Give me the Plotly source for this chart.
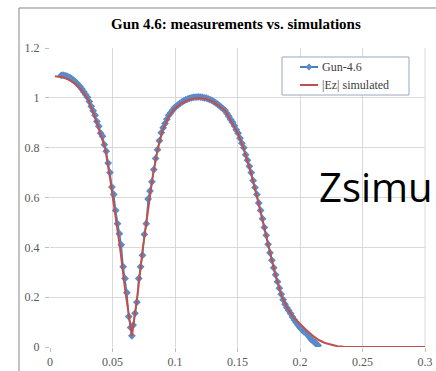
import plotly.graph_objects as go

# Simulated |Ez|
sim_x = [0.004, 0.010, 0.015, 0.020, 0.025, 0.030, 0.035, 0.040, 0.044, 0.048,
         0.052, 0.056, 0.060, 0.0635, 0.0655, 0.0675, 0.070, 0.074, 0.078, 0.082,
         0.086, 0.090, 0.095, 0.100, 0.105, 0.110, 0.115, 0.120, 0.125, 0.130,
         0.135, 0.140, 0.145, 0.150, 0.155, 0.160, 0.165, 0.170, 0.175, 0.180,
         0.185, 0.190, 0.195, 0.200, 0.205, 0.210, 0.215, 0.220, 0.225, 0.230,
         0.235, 0.240, 0.250, 0.260, 0.270, 0.280, 0.290, 0.300]
sim_y = [1.087, 1.083, 1.073, 1.057, 1.032, 0.998, 0.935, 0.858, 0.800, 0.679,
         0.548, 0.400, 0.233, 0.111, 0.045, 0.117, 0.207, 0.387, 0.542, 0.679,
         0.790, 0.868, 0.925, 0.957, 0.977, 0.990, 0.997, 0.999, 0.995, 0.985,
         0.968, 0.948, 0.905, 0.860, 0.795, 0.712, 0.615, 0.510, 0.395, 0.295,
         0.208, 0.155, 0.118, 0.092, 0.068, 0.046, 0.028, 0.016, 0.008, 0.003,
         0.001, 0.000, 0.000, 0.000, 0.000, 0.000, 0.000, 0.000]

# Measured Gun-4.6
meas_x = [0.0090, 0.0105, 0.0120, 0.0135, 0.0150, 0.0165, 0.0180, 0.0195, 0.0210, 0.0225,
          0.0240, 0.0255, 0.0270, 0.0285, 0.0300, 0.0315, 0.0330, 0.0345, 0.0360, 0.0375,
          0.0390, 0.0405, 0.0420, 0.0435, 0.0450, 0.0465, 0.0480, 0.0495, 0.0510, 0.0525,
          0.0540, 0.0555, 0.0570, 0.0585, 0.0600, 0.0615, 0.0630, 0.0645, 0.0655, 0.0665,
          0.0680, 0.0695, 0.0710, 0.0725, 0.0740, 0.0755, 0.0770, 0.0785, 0.0800, 0.0815,
          0.0830, 0.0845, 0.0860, 0.0875, 0.0890, 0.0905, 0.0920, 0.0935, 0.0950, 0.0965,
          0.0980, 0.0995, 0.1010, 0.1025, 0.1040, 0.1055, 0.1070, 0.1085, 0.1100, 0.1115,
          0.1130, 0.1145, 0.1160, 0.1175, 0.1190, 0.1205, 0.1220, 0.1235, 0.1250, 0.1265,
          0.1280, 0.1295, 0.1310, 0.1325, 0.1340, 0.1355, 0.1370, 0.1385, 0.1400, 0.1415,
          0.1430, 0.1445, 0.1460, 0.1475, 0.1490, 0.1505, 0.1520, 0.1535, 0.1550, 0.1565,
          0.1580, 0.1595, 0.1610, 0.1625, 0.1640, 0.1655, 0.1670, 0.1685, 0.1700, 0.1715,
          0.1730, 0.1745, 0.1760, 0.1775, 0.1790, 0.1805, 0.1820, 0.1835, 0.1850, 0.1865,
          0.1880, 0.1895, 0.1910, 0.1925, 0.1940, 0.1955, 0.1970, 0.1985, 0.2000, 0.2015,
          0.2030, 0.2045, 0.2060, 0.2075, 0.2090, 0.2105, 0.2120, 0.2135, 0.2145]
meas_y = [1.090, 1.091, 1.089, 1.087, 1.083, 1.080, 1.074, 1.068, 1.061, 1.053,
          1.045, 1.035, 1.024, 1.013, 1.002, 0.985, 0.966, 0.948, 0.930, 0.905,
          0.886, 0.858, 0.846, 0.812, 0.786, 0.738, 0.700, 0.642, 0.612, 0.548,
          0.495, 0.455, 0.410, 0.322, 0.275, 0.218, 0.122, 0.078, 0.045, 0.088,
          0.135, 0.180, 0.275, 0.322, 0.368, 0.452, 0.495, 0.594, 0.626, 0.663,
          0.712, 0.757, 0.792, 0.828, 0.860, 0.880, 0.897, 0.914, 0.930, 0.940,
          0.950, 0.960, 0.966, 0.972, 0.978, 0.983, 0.988, 0.992, 0.995, 0.998,
          1.000, 1.002, 1.003, 1.003, 1.004, 1.003, 1.002, 1.000, 0.999, 0.996,
          0.993, 0.990, 0.985, 0.980, 0.975, 0.969, 0.962, 0.956, 0.950, 0.938,
          0.926, 0.913, 0.902, 0.888, 0.872, 0.858, 0.838, 0.818, 0.800, 0.772,
          0.750, 0.725, 0.700, 0.668, 0.640, 0.612, 0.578, 0.548, 0.515, 0.480,
          0.448, 0.412, 0.378, 0.348, 0.318, 0.290, 0.262, 0.236, 0.212, 0.190,
          0.172, 0.158, 0.146, 0.134, 0.120, 0.108, 0.098, 0.088, 0.078, 0.070,
          0.062, 0.058, 0.050, 0.040, 0.030, 0.024, 0.018, 0.010, 0.006]

series_names = ["Gun-4.6", "|Ez| simulated"]
title_text = "Gun 4.6: measurements vs. simulations"
overlay_text = "Zsimu"

BLUE_LINE = "#4a7ebb"
BLUE_MARK = "#5b8ac6"
RED = "#c0504d"

fig = go.Figure()
fig.add_trace(go.Scatter(
    x=meas_x, y=meas_y, name=series_names[0], mode="lines+markers",
    line=dict(color=BLUE_LINE, width=1.5),
    marker=dict(symbol="diamond", size=6, color=BLUE_MARK),
    showlegend=False,
))
fig.add_trace(go.Scatter(
    x=sim_x, y=sim_y, name=series_names[1], mode="lines",
    line=dict(color=RED, width=2),
    showlegend=False,
))

# custom legend geometry (paper coordinates)
lg_x0, lg_x1, lg_y0, lg_y1 = 0.6187, 0.9573, 0.8428, 0.9699
row_y = [0.9365, 0.8763]
samp_x0, samp_x1 = 0.6667, 0.7147
dmx, dhx, dhy = 0.6907, 0.0093, 0.0117

legend_shapes = [
    dict(type="rect", xref="paper", yref="paper", x0=lg_x0, x1=lg_x1, y0=lg_y0, y1=lg_y1,
         line=dict(color="#9aa7bf", width=1), fillcolor="white", layer="above"),
    dict(type="line", xref="paper", yref="paper", x0=samp_x0, x1=samp_x1, y0=row_y[0], y1=row_y[0],
         line=dict(color=BLUE_LINE, width=2), layer="above"),
    dict(type="path", xref="paper", yref="paper",
         path=f"M {dmx-dhx} {row_y[0]} L {dmx} {row_y[0]+dhy} L {dmx+dhx} {row_y[0]} L {dmx} {row_y[0]-dhy} Z",
         line=dict(width=0), fillcolor=BLUE_MARK, layer="above"),
    dict(type="line", xref="paper", yref="paper", x0=samp_x0, x1=samp_x1, y0=row_y[1], y1=row_y[1],
         line=dict(color=RED, width=2), layer="above"),
]
legend_texts = [
    dict(text=series_names[i], xref="paper", yref="paper", x=0.7187, y=row_y[i],
         xanchor="left", yanchor="middle", showarrow=False,
         font=dict(family="Liberation Serif", size=12, color="#404040"))
    for i in range(2)
]

tickfont = dict(family="Liberation Serif", size=12, color="#595959")
fig.update_layout(
    width=436, height=371,
    margin=dict(l=50, r=11, t=48, b=24, autoexpand=False),
    paper_bgcolor="white", plot_bgcolor="white",
    showlegend=False,
    xaxis=dict(
        range=[0, 0.3], dtick=0.05, tick0=0, automargin=False,
        showgrid=True, gridcolor="#d9d9d9", gridwidth=1,
        zeroline=False, showline=False,
        ticks="outside", ticklen=4, tickcolor="#bfbfbf",
        tickfont=tickfont,
    ),
    yaxis=dict(
        range=[0, 1.2], dtick=0.2, tick0=0, automargin=False,
        showgrid=True, gridcolor="#d9d9d9", gridwidth=1,
        zeroline=False, showline=False,
        ticks="outside", ticklen=4, tickcolor="#bfbfbf",
        tickfont=tickfont, ticklabelstandoff=3,
    ),
    annotations=[
        dict(text="<b>" + title_text + "</b>", xref="paper", yref="paper",
             x=0.496, y=1.080, xanchor="center", yanchor="middle", showarrow=False,
             font=dict(family="Liberation Serif", size=15, color="black")),
        dict(text=overlay_text, xref="paper", yref="paper",
             x=0.712, y=0.538, xanchor="left", yanchor="middle", showarrow=False,
             font=dict(family="Open Sans", size=40, color="black")),
    ] + legend_texts,
    shapes=[
        dict(type="rect", xref="paper", yref="paper",
             x0=-0.0827, x1=1.2, y0=-0.3, y1=1.1338,
             line=dict(color="#868686", width=1), fillcolor="rgba(0,0,0,0)", layer="below"),
        dict(type="line", xref="paper", yref="paper", x0=1, x1=1, y0=0, y1=1,
             line=dict(color="#d9d9d9", width=1), layer="below"),
    ] + legend_shapes,
)

fig.write_html("out.html")
